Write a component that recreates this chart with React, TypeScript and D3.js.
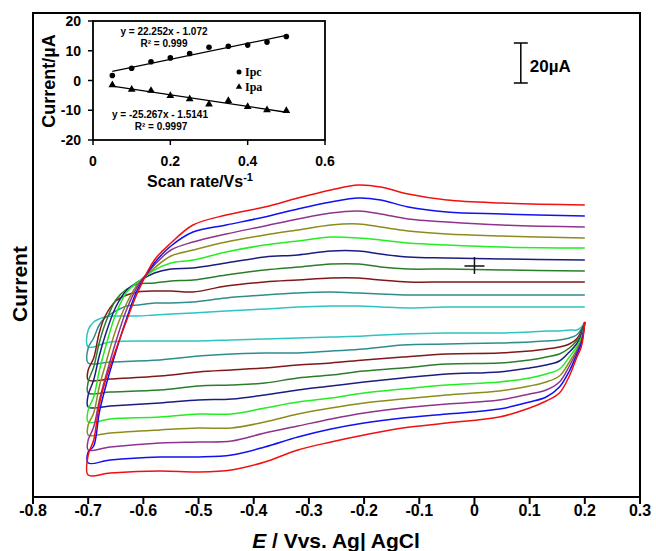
import {curveCatmullRom, line, mean, scaleLinear, sum, symbol, symbolTriangle} from "d3";

const SANS = "'Liberation Sans', Arial, sans-serif";
const SERIF = "'Liberation Serif', 'Times New Roman', serif";

// main voltammogram: potential grid of each sweep
const E_FORWARD = [-0.7, -0.69, -0.68, -0.67, -0.65, -0.63, -0.61, -0.58, -0.55, -0.51, -0.45, -0.38, -0.32, -0.26, -0.21, -0.17, -0.12, -0.05, 0.05, 0.2];
const E_REVERSE = [0.2, 0.194, 0.185, 0.172, 0.154, 0.13, 0.1, 0.045, -0.05, -0.13, -0.2, -0.26, -0.32, -0.38, -0.44, -0.5, -0.57, -0.66, -0.7];

// currents (µA, arbitrary offset), from slowest scan (0.05 V/s) to fastest (0.5 V/s)
const CYAN_FWD = [-15, -11, -9.5, -8.5, -8, -8, -8, -7.5, -7, -6.5, -5.5, -4.5, -3.5, -3, -3, -3.5, -4, -3.5, -3.5, -3.5];
const CYAN_REV = [-11, -13.5, -15, -15, -15.5, -15.5, -16, -16.5, -16.5, -17, -18, -18.5, -19, -19.5, -20, -20.5, -20.5, -21, -23.5];
const TEAL_FWD = [-24, -19, -12.5, -9, -5.5, -3, -2.5, -1.5, -1.5, -1, 1, 2.5, 3.5, 4, 3.5, 3, 2.5, 2.5, 2.5, 2.5];
const TEAL_REV = [-11, -14.5, -17.5, -19, -20, -20.5, -21, -21.5, -22, -22.5, -24.5, -25.5, -26.5, -26.5, -27, -28, -30, -31, -31.5];
const MAROON_FWD = [-35, -29, -16.5, -8.5, -0.5, 2.5, 4, 4.5, 4.5, 4, 7, 9, 10, 11, 11, 10, 9, 9, 9, 9];
const MAROON_REV = [-11, -15.5, -19.5, -22, -23.5, -24.5, -25.5, -26.5, -27, -28.5, -30, -31.5, -32.5, -34, -35, -36, -38, -39.5, -40];
const DKGREEN_FWD = [-41, -33.5, -21.5, -12.5, 0, 5.5, 8, 8.5, 9.5, 10, 12.5, 15, 16.5, 18, 18, 16.5, 15.5, 15.5, 15, 14.5];
const DKGREEN_REV = [-11, -16.5, -20.5, -24, -27, -28.5, -30, -31.5, -32, -34, -35.5, -37.5, -39, -41.5, -42.5, -43, -45, -46, -46.5];
const NAVY_FWD = [-47.5, -40, -28, -18.5, -3.5, 5, 9, 13.5, 15.5, 16, 18.5, 21.5, 22.5, 24.5, 24.5, 23, 21.5, 21, 20.5, 20];
const NAVY_REV = [-11, -17.5, -22, -26, -30.5, -32.5, -34, -36, -37, -39, -41, -43, -45, -47.5, -49.5, -50, -51.5, -53, -53.5];
const GREEN_FWD = [-55, -48.5, -35.5, -25, -7, 4, 9, 15, 18.5, 20, 24, 27.5, 29.5, 31.5, 31, 30, 28.5, 27.5, 26.5, 26];
const GREEN_REV = [-11, -18.5, -23.5, -28.5, -34.5, -37, -39, -41, -42.5, -44.5, -46.5, -49, -51, -54, -57, -57, -58.5, -59.5, -61];
const OLIVE_FWD = [-62.5, -56.5, -43.5, -33.5, -15, -1.5, 8, 16, 22, 25, 29, 32.5, 35, 37.5, 38, 36.5, 34.5, 33, 32, 31];
const OLIVE_REV = [-11, -19.5, -25, -31, -38, -41, -43, -45.5, -47.5, -49.5, -51.5, -54, -57, -61, -64, -64, -65, -66.5, -67.5];
const PURPLE_FWD = [-70, -63.5, -50.5, -40, -21, -4.5, 7, 17.5, 25, 29, 33, 37, 40.5, 43.5, 44.5, 43, 40.5, 39, 37.5, 36.5];
const PURPLE_REV = [-11, -20.5, -26, -33, -41, -45, -47, -50, -52, -54, -56.5, -59.5, -63, -66.5, -70.5, -71, -71.5, -73.5, -75];
const BLUE_FWD = [-76, -73, -56.5, -45, -26, -9, 5.5, 18.5, 27, 34, 37.5, 41.5, 45.5, 49, 51, 50, 46.5, 44, 43, 42];
const BLUE_REV = [-11, -21.5, -27.5, -35.5, -43.5, -48.5, -51, -54.5, -57, -59, -61.5, -64.5, -68.5, -73.5, -77.5, -78.5, -78.5, -80, -81.5];
const RED_FWD = [-77.5, -70, -52.5, -41.5, -25, -10, 4, 20, 28.5, 37.5, 42.5, 46.5, 51, 55, 57.5, 56.5, 53, 50, 48.5, 47.5];
const RED_REV = [-11, -23, -29, -38, -46.5, -50.5, -54, -58.5, -61.5, -64, -67.5, -71, -75, -81, -85, -86, -85.5, -86.5, -87.5];

const FORWARD = [CYAN_FWD, TEAL_FWD, MAROON_FWD, DKGREEN_FWD, NAVY_FWD, GREEN_FWD, OLIVE_FWD, PURPLE_FWD, BLUE_FWD, RED_FWD];
const REVERSE = [CYAN_REV, TEAL_REV, MAROON_REV, DKGREEN_REV, NAVY_REV, GREEN_REV, OLIVE_REV, PURPLE_REV, BLUE_REV, RED_REV];
const COLORS = ["#2ec4c4", "#2f8c8c", "#801818", "#2b7d2b", "#1c1c80", "#22ee22", "#8c8c1c", "#8e348e", "#1010f0", "#f01010"];

const E_TICKS = [-0.8, -0.7, -0.6, -0.5, -0.4, -0.3, -0.2, -0.1, 0, 0.1, 0.2, 0.3];

// inset: peak current vs scan rate
const SCAN_RATES = [0.05, 0.1, 0.15, 0.2, 0.25, 0.3, 0.35, 0.4, 0.45, 0.5];
const IPC = [1.7, 4.1, 6.3, 7.6, 9.1, 11.2, 11.5, 11.9, 12.9, 14.8];
const IPA = [-1.5, -3.0, -3.4, -5.1, -6.2, -8.0, -6.8, -8.8, -9.9, -10.2];
const INSET_X_TICKS = [0, 0.2, 0.4, 0.6];
const INSET_Y_TICKS = [20, 10, 0, -10, -20];

const SCALE_BAR = {e: 0.084, from: 108.5, to: 128.5};
const CROSS = {e: 0, i: 17};

export default function App() {
  const x = scaleLinear().domain([-0.8, 0.3]).range([33, 640]);
  const y = scaleLinear().domain([-98.5, 143.5]).range([497, 13]);
  const ix = scaleLinear().domain([0, 0.6]).range([93, 325]);
  const iy = scaleLinear().domain([-20, 20]).range([140, 21]);

  const cv = line<[number, number]>()
    .x((d) => x(d[0]))
    .y((d) => y(d[1]))
    .curve(curveCatmullRom.alpha(0.5));

  // least-squares trend line through the inset points
  const fit = (ys: number[]) => {
    const mx = mean(SCAN_RATES)!;
    const my = mean(ys)!;
    const slope =
      sum(SCAN_RATES, (v, k) => (v - mx) * (ys[k] - my)) / sum(SCAN_RATES, (v) => (v - mx) ** 2);
    const b = my - slope * mx;
    const x0 = SCAN_RATES[0];
    const x1 = SCAN_RATES[SCAN_RATES.length - 1];
    return {x1: ix(x0), y1: iy(slope * x0 + b), x2: ix(x1), y2: iy(slope * x1 + b)};
  };
  const ipcFit = fit(IPC);
  const ipaFit = fit(IPA);
  const tri = symbol(symbolTriangle, 26)() ?? "";

  return (
    <div style={{position: "absolute", left: 0, top: 0}}>
      <svg width={656} height={551} viewBox="0 0 656 551" style={{display: "block", background: "#fff"}}>
        {FORWARD.map((fwd, k) => {
          const pts: [number, number][] = [
            ...E_REVERSE.map((e, j) => [e, REVERSE[k][j]] as [number, number]),
            ...E_FORWARD.map((e, j) => [e, fwd[j]] as [number, number])
          ];
          return <path key={k} d={cv(pts) ?? ""} fill="none" stroke={COLORS[k]} strokeWidth={1.5} />;
        })}

        {/* frame */}
        <path d="M33,497 V13 H640 V497" fill="none" stroke="#000" strokeWidth={2} />
        <line x1={33} x2={640} y1={497} y2={497} stroke="#000" strokeWidth={2} />
        {E_TICKS.map((t) => (
          <g key={t} transform={`translate(${x(t)},497)`}>
            <line y2={7} stroke="#000" strokeWidth={2} />
            <text y={19} textAnchor="middle" fontFamily={SANS} fontWeight="bold" fontSize={16}>
              {String(t)}
            </text>
          </g>
        ))}
        <text x={336} y={548} textAnchor="middle" fontFamily={SANS} fontWeight="bold" fontSize={21}>
          <tspan fontStyle="italic">E</tspan> / Vvs. Ag| AgCl
        </text>
        <text transform="translate(27,284) rotate(-90)" textAnchor="middle" fontFamily={SANS} fontWeight="bold" fontSize={21}>
          Current
        </text>

        {/* scale bar */}
        <g stroke="#000" strokeWidth={1.5}>
          <line x1={x(SCALE_BAR.e)} x2={x(SCALE_BAR.e)} y1={y(SCALE_BAR.from)} y2={y(SCALE_BAR.to)} />
          <line x1={x(SCALE_BAR.e) - 7} x2={x(SCALE_BAR.e) + 7} y1={y(SCALE_BAR.from)} y2={y(SCALE_BAR.from)} />
          <line x1={x(SCALE_BAR.e) - 7} x2={x(SCALE_BAR.e) + 7} y1={y(SCALE_BAR.to)} y2={y(SCALE_BAR.to)} />
        </g>
        <text x={x(SCALE_BAR.e) + 9} y={72} fontFamily={SANS} fontWeight="bold" fontSize={17}>
          20µA
        </text>

        {/* cursor cross */}
        <g stroke="#111" strokeWidth={1.5}>
          <line x1={x(CROSS.e) - 10} x2={x(CROSS.e) + 10} y1={y(CROSS.i)} y2={y(CROSS.i)} />
          <line x1={x(CROSS.e)} x2={x(CROSS.e)} y1={y(CROSS.i) - 9} y2={y(CROSS.i) + 8} />
        </g>

        {/* inset */}
        <rect x={93} y={21} width={232} height={119} fill="none" stroke="#000" strokeWidth={1.8} />
        {INSET_Y_TICKS.map((t) => (
          <g key={t} transform={`translate(93,${iy(t)})`}>
            <line x2={-5} stroke="#000" strokeWidth={1.5} />
            <text x={-12} y={5} textAnchor="end" fontFamily={SANS} fontWeight="bold" fontSize={14}>
              {t}
            </text>
          </g>
        ))}
        {INSET_X_TICKS.map((t) => (
          <g key={t} transform={`translate(${ix(t)},140)`}>
            <line y2={5} stroke="#000" strokeWidth={1.5} />
            <text y={26} textAnchor="middle" fontFamily={SANS} fontWeight="bold" fontSize={14}>
              {t}
            </text>
          </g>
        ))}
        <text transform="translate(55,81) rotate(-90)" textAnchor="middle" fontFamily={SANS} fontWeight="bold" fontSize={18}>
          Current/µA
        </text>
        <text x={200} y={187} textAnchor="middle" fontFamily={SANS} fontWeight="bold" fontSize={16}>
          Scan rate/Vs
          <tspan dy={-6} fontSize={11}>-1</tspan>
        </text>

        <line {...ipcFit} stroke="#000" strokeWidth={1.3} />
        <line {...ipaFit} stroke="#000" strokeWidth={1.3} />
        {SCAN_RATES.map((s, k) => (
          <circle key={`c${s}`} cx={ix(s)} cy={iy(IPC[k])} r={2.8} fill="#000" />
        ))}
        {SCAN_RATES.map((s, k) => (
          <path key={`t${s}`} d={tri} transform={`translate(${ix(s)},${iy(IPA[k])})`} fill="#000" />
        ))}

        <g fontFamily={SANS} fontWeight="bold" fontSize={10} textAnchor="middle">
          <text x={164} y={35}>y = 22.252x - 1.072</text>
          <text x={164} y={47}>R² = 0.999</text>
          <text x={160} y={118}>y = -25.267x - 1.5141</text>
          <text x={161} y={130}>R² = 0.9997</text>
        </g>
        <circle cx={239} cy={72} r={2.5} fill="#000" />
        <path d={symbol(symbolTriangle, 18)() ?? ""} transform="translate(239,87)" fill="#000" />
        <g fontFamily={SERIF} fontWeight="bold" fontSize={12}>
          <text x={245} y={76}>Ipc</text>
          <text x={245} y={91}>Ipa</text>
        </g>
      </svg>
    </div>
  );
}
